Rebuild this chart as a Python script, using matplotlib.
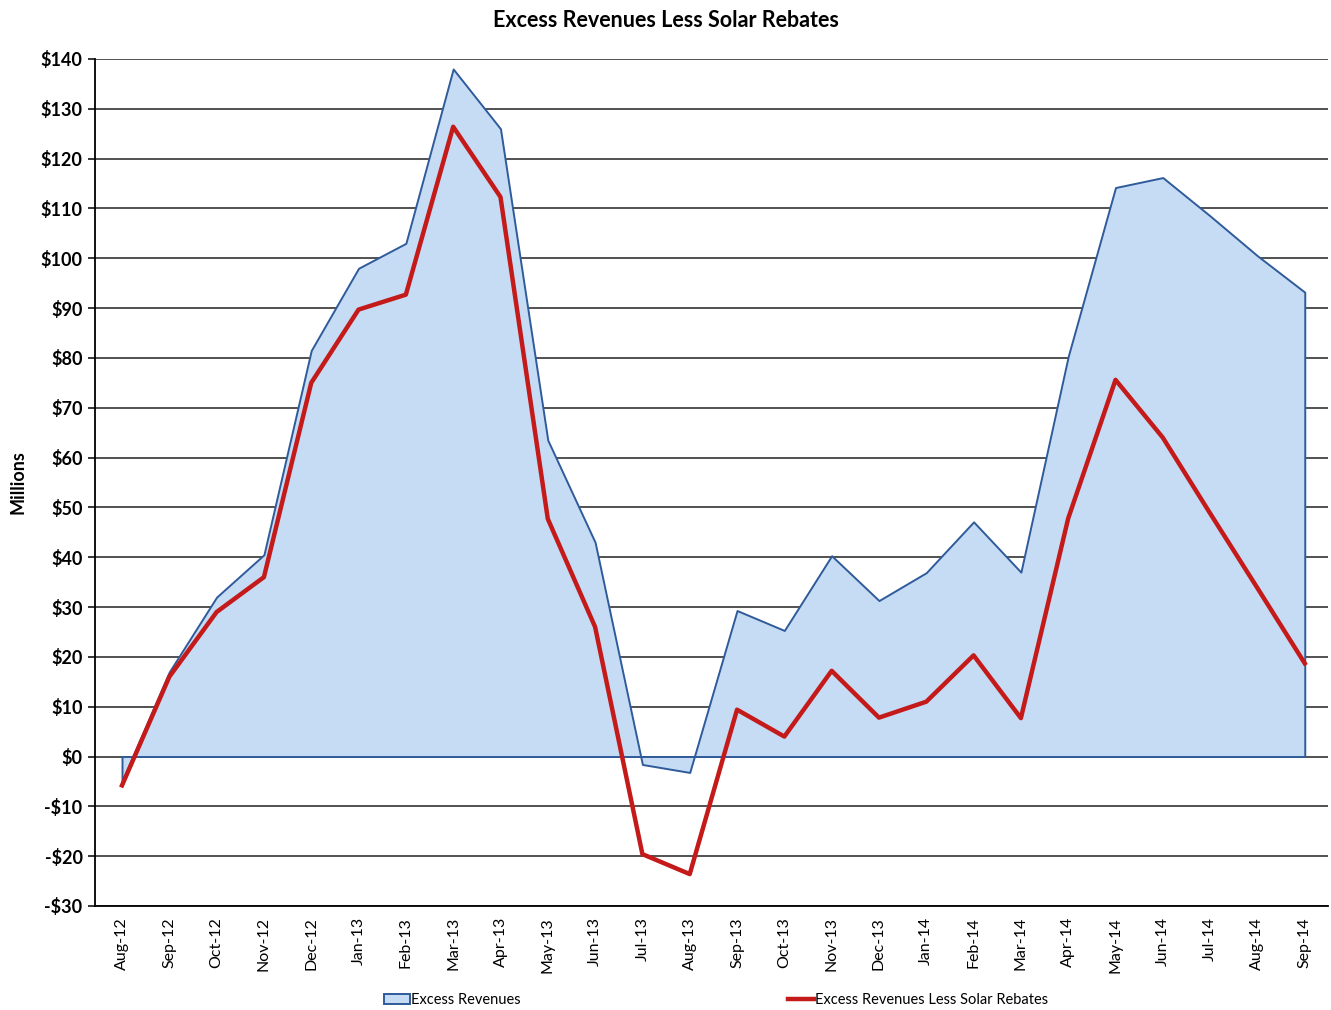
import numpy as np
import matplotlib.pyplot as plt
from matplotlib.lines import Line2D
from matplotlib.patches import Patch

months = ['Aug-12', 'Sep-12', 'Oct-12', 'Nov-12', 'Dec-12', 'Jan-13', 'Feb-13', 'Mar-13',
          'Apr-13', 'May-13', 'Jun-13', 'Jul-13', 'Aug-13', 'Sep-13', 'Oct-13', 'Nov-13',
          'Dec-13', 'Jan-14', 'Feb-14', 'Mar-14', 'Apr-14', 'May-14', 'Jun-14', 'Jul-14',
          'Aug-14', 'Sep-14']
excess = [-5.0, 17.0, 32.0, 40.5, 81.5, 98.0, 103.0, 138.0, 126.0, 63.5, 43.0, -1.6, -3.2,
          29.3, 25.3, 40.3, 31.3, 36.9, 47.1, 37.0, 80.3, 114.2, 116.2, 108.5, 100.5, 93.2]
less_rebates = [-5.8, 16.0, 29.0, 36.0, 75.0, 89.7, 92.7, 126.4, 112.3, 47.7, 26.0, -19.6,
                -23.6, 9.4, 4.0, 17.2, 7.8, 11.0, 20.3, 7.7, 47.8, 75.6, 64.0, 48.8, 33.8, 18.7]
yticks = list(range(-30, 141, 10))

plt.rcParams['font.family'] = ['Lato', 'DejaVu Sans']

fig = plt.figure(figsize=(13.31, 10.10), dpi=100)
ax = fig.add_axes([0.0714, 0.103, 0.9263, 0.8386])

x = np.arange(len(months))
ax.fill_between(x, excess, 0, facecolor='#c6dcf4', edgecolor='#2f5b9a', linewidth=1.4, zorder=2)
ax.plot(x, less_rebates, color='#c41a1a', linewidth=3.2, zorder=3)

ax.set_xlim(-0.57, len(months) - 0.51)
ax.set_ylim(-30, 140)
ax.set_yticks(yticks)
ax.set_yticklabels(['-$%d' % -v if v < 0 else '$%d' % v for v in yticks],
                   fontsize=13, fontweight='bold')
ax.set_xticks(x)
ax.set_xticklabels(months, rotation=90, fontsize=11.5)
ax.yaxis.grid(True, color='#222222', linewidth=1.1, zorder=1)
ax.set_axisbelow(True)
for s in ['top', 'right']:
    ax.spines[s].set_visible(False)
ax.spines['left'].set_linewidth(1.3)
ax.spines['bottom'].set_linewidth(1.3)
ax.tick_params(axis='x', length=0, pad=8)
ax.tick_params(axis='y', length=5, width=1.1, pad=4)
ax.set_ylabel('Millions', fontsize=13, fontweight='bold', labelpad=10)

fig.suptitle('Excess Revenues Less Solar Rebates', fontsize=15.5, fontweight='bold', y=0.99)

handles = [Patch(facecolor='#c6dcf4', edgecolor='#2f5b9a', linewidth=1.4),
           Line2D([0], [0], color='#c41a1a', linewidth=3.2)]
fig.legend(handles, ['Excess Revenues', 'Excess Revenues Less Solar Rebates'],
           loc='lower center', bbox_to_anchor=(0.538, -0.01), ncol=2, frameon=False,
           fontsize=10.5, columnspacing=18.3, handlelength=1.8, handletextpad=0.1)

fig.savefig('out.png', dpi=100)
